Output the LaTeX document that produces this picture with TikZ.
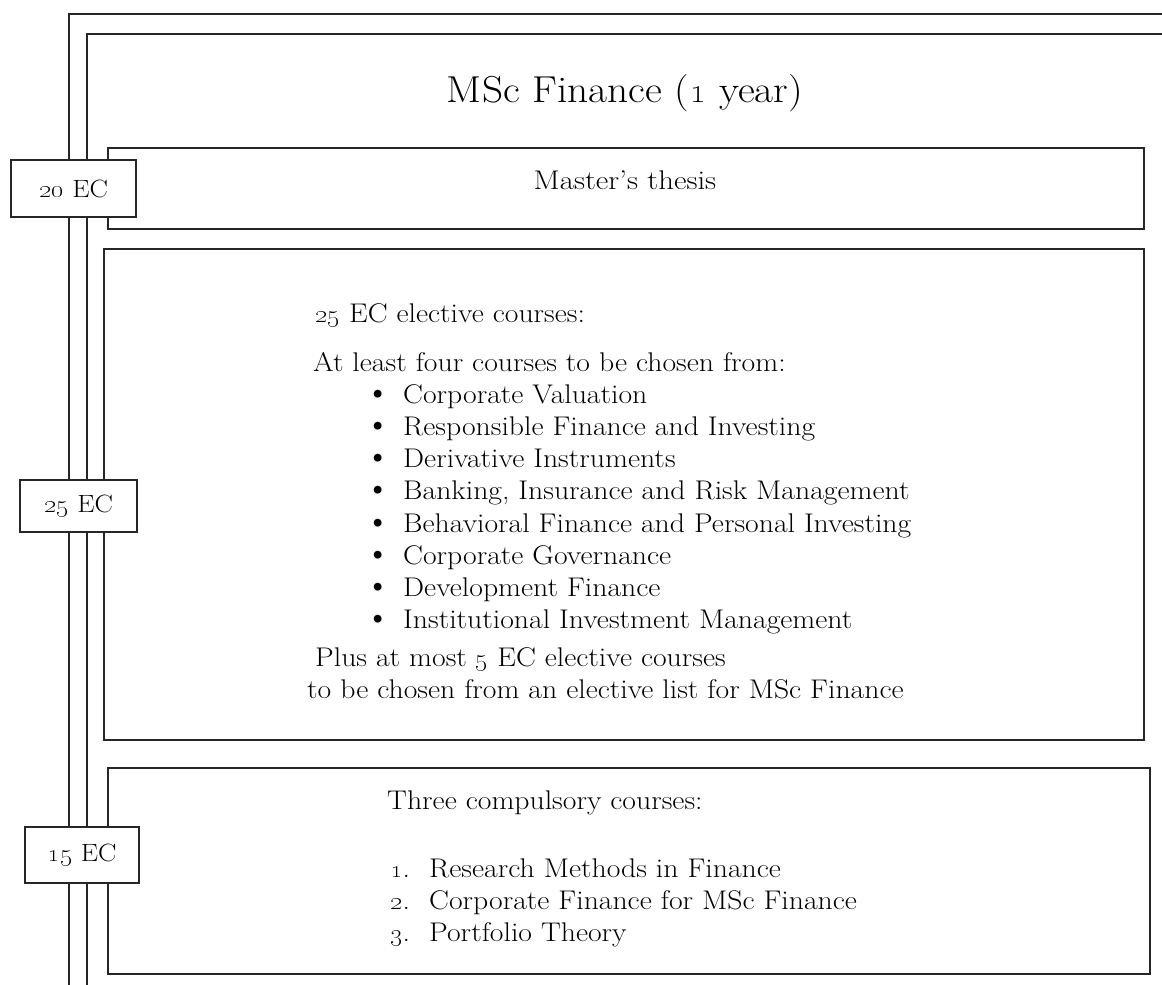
\documentclass[tikz,border=0pt]{standalone}
\usepackage{graphicx}
\newcommand\stretchx[1]{\scalebox{1.1}[1]{#1}}
\begin{document}
\begin{tikzpicture}[x=1pt,y=-1pt,
  frame/.style={draw=black!85,line width=1.6pt},
  panel/.style={frame,anchor=north west,inner sep=0pt},
  ecbox/.style={frame,fill=white,inner sep=0pt,font=\fontsize{25}{29}\selectfont},
  body/.style={anchor=base west,inner sep=0pt,font=\fontsize{27}{32}\selectfont},
  centred/.style={anchor=base,inner sep=0pt,font=\fontsize{27}{32}\selectfont},
  heading/.style={anchor=base,inner sep=0pt,font=\fontsize{37.5}{44}\selectfont}]
\useasboundingbox (0,0) rectangle (1162,985);
% frame lines
\draw[frame] (69,985) -- (69,14) -- (1162,14);
\draw[frame] (87,985) -- (87,34) -- (1162,34);
% panels
\node[panel,minimum width=1036pt,minimum height=81pt] (thesis) at (107,147) {};
\node[panel,minimum width=1040pt,minimum height=491pt] (elective) at (103,248) {};
\node[panel,minimum width=1042pt,minimum height=206pt] (compulsory) at (107,767) {};
% EC boxes
\node[ecbox,minimum width=125pt,minimum height=57pt] (ec20) at (73.5,188.5) {\stretchx{\oldstylenums{20} EC}};
\node[ecbox,minimum width=117pt,minimum height=52pt] (ec25) at (78.5,506) {\stretchx{\oldstylenums{25} EC}};
\node[ecbox,minimum width=114pt,minimum height=56pt] (ec15) at (82,855) {\stretchx{\oldstylenums{15} EC}};
% title and thesis
\node[heading] (title) at (625,102) {\stretchx{MSc Finance (\oldstylenums{1} year)}};
\node[centred] (thesistext) at (625,189) {\scalebox{1.14}[1]{Master's thesis}};
% elective text
\node[body] (e1) at (315,322) {\stretchx{\oldstylenums{25} EC elective courses:}};
\node[body] (e2) at (313,371) {\stretchx{At least four courses to be chosen from:}};
\foreach \t [count=\i] in {Corporate Valuation,Responsible Finance and Investing,Derivative Instruments,{Banking, Insurance and Risk Management},Behavioral Finance and Personal Investing,Corporate Governance,Development Finance,Institutional Investment Management}{
  \node[body] (b\i) at (365,{371+32.2*\i}) {\scalebox{1.3}{\textbullet}};
  \node[body] (l\i) at (403,{371+32.2*\i}) {\stretchx{\t}};
}
\node[body] (p1) at (315,666) {\stretchx{Plus at most \oldstylenums{5} EC elective courses}};
\node[body] (p2) at (307,698) {\stretchx{to be chosen from an elective list for MSc Finance}};
% compulsory text
\node[body] (c0) at (387,809) {\stretchx{Three compulsory courses:}};
\foreach \t [count=\i] in {Research Methods in Finance,Corporate Finance for MSc Finance,Portfolio Theory}{
  \node[body] (n\i) at (390,{845+32*\i}) {\stretchx{\oldstylenums{\i}.}};
  \node[body] (c\i) at (429,{845+32*\i}) {\stretchx{\t}};
}
\end{tikzpicture}
\end{document}
